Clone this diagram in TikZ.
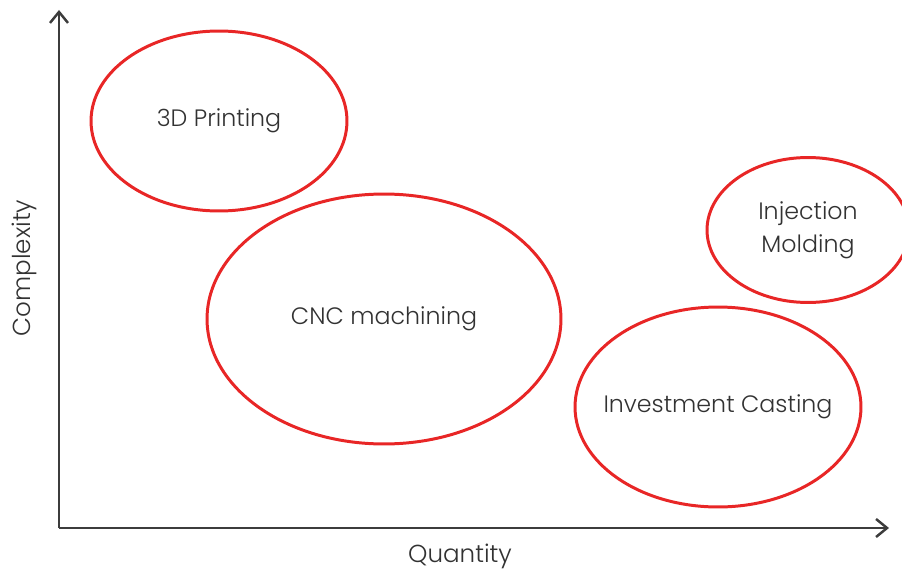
\documentclass[tikz,border=0pt]{standalone}
\usepackage{fontspec}
\setmainfont{Poppins}[UprightFont=* Light]
\usetikzlibrary{shapes.geometric,arrows.meta,positioning}
\definecolor{ringred}{RGB}{232, 38, 38}
\definecolor{axisgray}{RGB}{60, 60, 60}
\definecolor{textgray}{RGB}{50, 50, 50}
\tikzstyle{axis} = [
    line width=1.4pt,
    -{Straight Barb[length=2.2mm,width=3.6mm]},
    draw=axisgray
]
\tikzstyle{process} = [
    ellipse,
    draw=ringred,
    line width=1.7pt,
    inner xsep=-12pt,
    inner ysep=0pt,
    align=center,
    text=textgray,
    font=\fontsize{13.5}{18.7}\selectfont
]
\begin{document}
\begin{tikzpicture}[x=0.02cm, y=-0.02cm]
    \useasboundingbox (0,0) rectangle (902,571);
    % axes
    \coordinate (O) at (59,528);
    \coordinate (ytop) at (59,10);
    \coordinate (xend) at (889,528);
    \draw[axis] (O) -- (ytop);
    \draw[axis] (O) -- (xend);
    \node (ylabel) [rotate=90, text=textgray, font=\fontsize{14}{17}\selectfont] at (24,268) {Complexity};
    \node (xlabel) [text=textgray, font=\fontsize{14}{17}\selectfont] at (460,556) {Quantity};
    % processes
    \node (print) [process, minimum width=5.12cm, minimum height=3.6cm] at (219,121) {3D Printing};
    \node (cnc) [process, minimum width=7.08cm, minimum height=5cm] at (384,319) {CNC machining};
    \node (mold) [process, minimum width=4.04cm, minimum height=2.9cm] at (808,230) {Injection\\Molding};
    \node (cast) [process, minimum width=5.72cm, minimum height=4cm] at (718,407) {Investment Casting};
\end{tikzpicture}
\end{document}
